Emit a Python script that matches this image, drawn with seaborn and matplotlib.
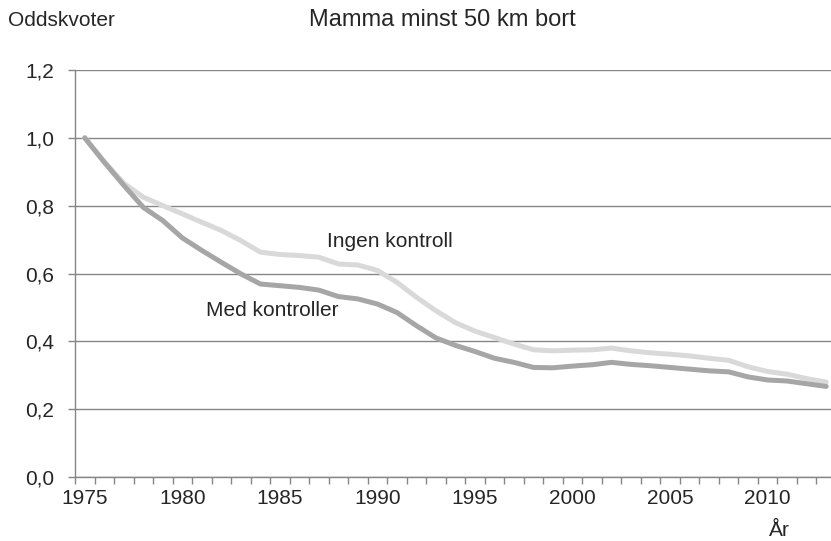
import pandas as pd
import matplotlib
matplotlib.use('Agg')
import matplotlib.pyplot as plt
import seaborn as sns
import numpy as np

years = list(range(1975, 2014))

ingen_kontroll = [1.000, 0.930, 0.866, 0.825, 0.800, 0.776, 0.751, 0.727, 0.697, 0.663,
                  0.656, 0.653, 0.648, 0.628, 0.625, 0.609, 0.574, 0.530, 0.490, 0.455,
                  0.430, 0.411, 0.392, 0.375, 0.372, 0.374, 0.375, 0.380, 0.372, 0.366,
                  0.362, 0.357, 0.350, 0.344, 0.325, 0.311, 0.303, 0.290, 0.280]

med_kontroller = [1.000, 0.928, 0.860, 0.795, 0.756, 0.705, 0.668, 0.633, 0.599, 0.569,
                  0.564, 0.559, 0.551, 0.532, 0.525, 0.510, 0.485, 0.446, 0.410, 0.388,
                  0.370, 0.350, 0.338, 0.323, 0.322, 0.327, 0.331, 0.338, 0.332, 0.328,
                  0.323, 0.318, 0.313, 0.310, 0.295, 0.286, 0.283, 0.275, 0.267]

series_names = ['Ingen kontroll', 'Med kontroller']
y_ticks = [0.0, 0.2, 0.4, 0.6, 0.8, 1.0, 1.2]
x_labels = [1975, 1980, 1985, 1990, 1995, 2000, 2005, 2010]

df = pd.DataFrame({
    'year': years * 2,
    'value': ingen_kontroll + med_kontroller,
    'serie': [series_names[0]] * len(years) + [series_names[1]] * len(years),
})

sns.set_style('white')
plt.rcParams['font.family'] = ['Liberation Sans', 'DejaVu Sans']

W, H = 831, 541
fig = plt.figure(figsize=(W / 100, H / 100), dpi=100)
# plot area runs a little past the right edge of the picture, as in the original
ax = fig.add_axes([75 / W, (H - 477) / H, (836 - 75) / W, (477 - 70) / H])

# gridlines first so lines sit on top
for v in y_ticks:
    ax.axhline(v, color='#868686', linewidth=1.0, zorder=1)

sns.lineplot(data=df, x='year', y='value', hue='serie',
             palette={'Ingen kontroll': '#d9d9d9', 'Med kontroller': '#a6a6a6'},
             linewidth=3.6, legend=False, ax=ax, zorder=3)

ax.set_xlim(1974.5, 2013.5)
ax.set_ylim(0, 1.2)

# ticks at category boundaries, labels at category centers
ax.set_xticks(np.arange(1974.5, 2014.0, 1.0))
ax.set_xticklabels([])
ax.set_xticks(x_labels, minor=True)
ax.set_xticklabels([str(x) for x in x_labels], minor=True)
ax.tick_params(axis='x', which='major', length=5, width=1, color='#868686', direction='out')
ax.tick_params(axis='x', which='minor', length=0, labelsize=15, pad=9)

ax.set_yticks(y_ticks)
ax.set_yticklabels([f'{v:.1f}'.replace('.', ',') for v in y_ticks])
ax.tick_params(axis='y', length=5, width=1, color='#868686', direction='out', labelsize=15, pad=10)
ax.tick_params(left=True, bottom=True)

for side in ['top', 'right']:
    ax.spines[side].set_visible(False)
for side in ['left', 'bottom']:
    ax.spines[side].set_color('#868686')
    ax.spines[side].set_linewidth(1.0)

ax.set_xlabel('')
ax.set_ylabel('')

ax.text(1987.4, 0.694, 'Ingen kontroll', fontsize=15, va='center', ha='left')
ax.text(1981.2, 0.49, 'Med kontroller', fontsize=15, va='center', ha='left')

fig.text(8 / W, 1 - 20 / H, 'Oddskvoter', fontsize=15, va='center', ha='left')
fig.text(442 / W, 1 - 20 / H, 'Mamma minst 50 km bort', fontsize=17, va='center', ha='center')
fig.text(779 / W, 1 - 531 / H, 'År', fontsize=15, va='center', ha='center')

plt.savefig('out.png', dpi=100)
plt.close()
